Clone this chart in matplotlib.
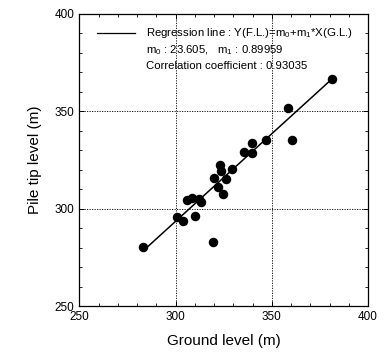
import matplotlib
matplotlib.use("Agg")
import matplotlib.pyplot as plt
import numpy as np
from matplotlib.ticker import MultipleLocator

plt.rcParams['font.family'] = ['Liberation Sans', 'DejaVu Sans']
plt.rcParams['mathtext.fontset'] = 'custom'
plt.rcParams['mathtext.rm'] = 'Liberation Sans'
plt.rcParams['mathtext.it'] = 'Liberation Sans'

ground_level = [283.2, 300.6, 304.0, 310.1, 306.1, 308.7, 312.3, 313.1, 319.6, 320.1,
                321.9, 323.1, 323.6, 324.8, 326.2, 329.5, 335.6, 339.6, 339.6, 346.8,
                358.3, 360.3, 381.1]
pile_tip_level = [280.5, 295.6, 293.8, 296.4, 304.3, 305.7, 305.1, 303.6, 282.7, 315.9,
                  311.3, 322.4, 319.4, 307.6, 315.3, 320.4, 329.3, 328.8, 333.9, 335.3,
                  351.6, 335.0, 366.6]
m0 = 23.605
m1 = 0.89959
corr = 0.93035

fig = plt.figure(figsize=(3.87, 3.56), dpi=100)
ax = fig.add_axes([0.205, 0.1404, 0.746, 0.8206])

xl = np.array([min(ground_level), max(ground_level)])
ax.plot(xl, m0 + m1 * xl, color='black', lw=1.1)
ax.scatter(ground_level, pile_tip_level, s=34, color='black', zorder=3)

ax.set_xlim(250, 400)
ax.set_ylim(250, 400)
ax.xaxis.set_major_locator(MultipleLocator(50))
ax.yaxis.set_major_locator(MultipleLocator(50))
ax.xaxis.set_minor_locator(MultipleLocator(10))
ax.yaxis.set_minor_locator(MultipleLocator(10))
ax.tick_params(which='both', direction='in', top=True, right=True, labelsize=8.5)
ax.tick_params(which='major', length=3.5, width=0.7)
ax.tick_params(which='minor', length=2.5, width=0.6)
ax.grid(True, which='major', linestyle=(0, (1.5, 1.5)), color='black', lw=0.6)
for s in ax.spines.values():
    s.set_linewidth(0.9)

ax.set_xlabel('Ground level (m)', fontsize=11, labelpad=8)
ax.set_ylabel('Pile tip level (m)', fontsize=11, labelpad=9)

ax.plot([0.061, 0.193], [0.935, 0.935], transform=ax.transAxes, color='black', lw=0.9)
ax.text(0.231, 0.935, r'Regression line : Y(F.L.)=m$_0$+m$_1$*X(G.L.)',
        transform=ax.transAxes, fontsize=8.2, va='center', ha='left')
ax.text(0.231, 0.877, r'm$_0$ : %.3f,   m$_1$ : %.5f' % (m0, m1),
        transform=ax.transAxes, fontsize=8.2, va='center', ha='left')
ax.text(0.231, 0.822, 'Correlation coefficient : %.5f' % corr,
        transform=ax.transAxes, fontsize=8.2, va='center', ha='left')

fig.savefig('out.png', dpi=100)
